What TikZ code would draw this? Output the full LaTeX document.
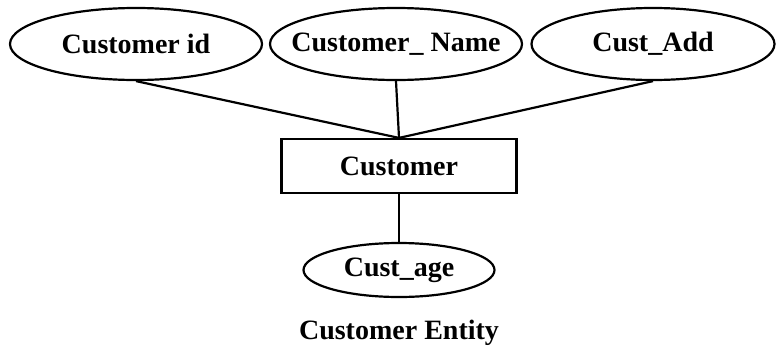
\documentclass[tikz,border=0pt]{standalone}
\usepackage{fontspec}
\setmainfont{Liberation Serif}
\usetikzlibrary{shapes.geometric}
\begin{document}
\begin{tikzpicture}[x=1pt,y=-1pt,
  txt/.style={font=\fontsize{28}{32}\selectfont\bfseries},
  attr/.style={draw,ellipse,line width=2.2pt,inner sep=0pt},
  ent/.style={draw,rectangle,line width=2.2pt,inner sep=0pt,txt},
  conn/.style={line width=2.2pt}]
\useasboundingbox (0,0) rectangle (778,351);
\node[attr,minimum width=252pt,minimum height=72pt,label={[txt]center:Customer id}] (id) at (136,44) {};
\node[attr,minimum width=252pt,minimum height=72pt,label={[txt]center:Customer\_ Name}] (name) at (396,44) {};
\node[attr,minimum width=243pt,minimum height=72pt,label={[txt]center:Cust\_Add}] (add) at (653,44) {};
\node[ent,minimum width=235pt,minimum height=54pt] (cust) at (399,166) {Customer};
\node[attr,minimum width=191pt,minimum height=54pt,label={[txt]center:Cust\_age}] (age) at (399,270) {};
\node[txt] (cap) at (399,333) {Customer Entity};
\draw[conn] (id.south) -- (cust.north);
\draw[conn] (name.south) -- (cust.north);
\draw[conn] (add.south) -- (cust.north);
\draw[conn] (cust.south) -- (age.north);
\end{tikzpicture}
\end{document}
